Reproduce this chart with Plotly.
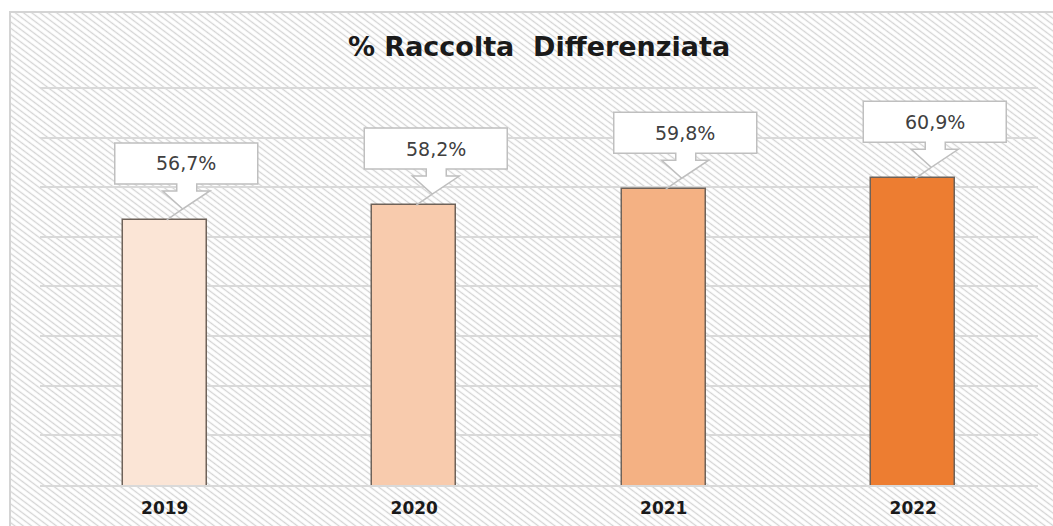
import base64
import plotly.graph_objects as go

# ---- data ----
years = ["2019", "2020", "2021", "2022"]
values = [56.7, 58.2, 59.8, 60.9]
labels = ["56,7%", "58,2%", "59,8%", "60,9%"]
bar_colors = ["#FBE5D6", "#F8CBAD", "#F4B183", "#ED7D31"]
title_text = "% Raccolta  Differenziata"
grid_vals = [30, 35, 40, 45, 50, 55, 60, 65, 70]

W, H = 1053, 526
L, R, T, B = 40, 15, 83, 41
pw, ph = W - L - R, H - T - B

fig = go.Figure()
fig.add_trace(go.Bar(
    x=years, y=values, width=0.337,
    marker=dict(color=bar_colors, line=dict(color="#6e6259", width=1.5)),
    hoverinfo="skip",
))

# hatched background as an svg pattern image
svg = (
    '<svg xmlns="http://www.w3.org/2000/svg" width="1060" height="520">'
    '<defs><pattern id="p" width="5" height="5" patternUnits="userSpaceOnUse" '
    'patternTransform="rotate(37)">'
    '<rect width="5" height="5" fill="#ffffff"/>'
    '<line x1="0" y1="2.5" x2="5" y2="2.5" stroke="#d4d4d4" stroke-width="1.3"/>'
    '</pattern></defs>'
    '<rect width="100%" height="100%" fill="url(#p)"/></svg>'
)
src = "data:image/svg+xml;base64," + base64.b64encode(svg.encode()).decode()
bx0, by0 = 10, 12
fig.add_layout_image(dict(
    source=src, xref="paper", yref="paper",
    x=(bx0 - L) / pw, y=(H - B - by0) / ph,
    sizex=1060 / pw, sizey=520 / ph,
    xanchor="left", yanchor="top", sizing="stretch", layer="below",
))

# frame
fig.add_shape(type="rect", xref="paper", yref="paper",
              x0=(bx0 - L) / pw, x1=(W + 20 - L) / pw,
              y0=-(B + 20) / ph, y1=(H - B - by0) / ph,
              line=dict(color="#d4d4d4", width=2), fillcolor="rgba(0,0,0,0)",
              layer="below")

# callouts (pixel geometry relative to each bar top)
callout_path = (
    "M -50,77 L 93,77 L 93,36 L 32,36 L 32,29 L 45,29 L 18,11 "
    "L -2,29 L 12,29 L 12,36 L -50,36 Z M 18,11 L 2,0"
)
for i, (yr, v, lab) in enumerate(zip(years, values, labels)):
    fig.add_shape(type="path", xref="x", yref="y",
                  xsizemode="pixel", ysizemode="pixel",
                  xanchor=i, yanchor=v, path=callout_path,
                  fillcolor="#ffffff", line=dict(color="#bfbfbf", width=1.5),
                  layer="above")
    fig.add_annotation(x=i, y=v, text=lab, showarrow=False,
                       xshift=21.5, yshift=56.5,
                       font=dict(family="DejaVu Sans", size=19, color="#404040"))

fig.update_layout(
    width=W, height=H,
    margin=dict(l=L, r=R, t=T, b=B, autoexpand=False),
    paper_bgcolor="#ffffff", plot_bgcolor="rgba(0,0,0,0)",
    showlegend=False, bargap=0,
    title=dict(text="<b>" + title_text + "</b>", x=0.5, xref="paper",
               xanchor="center", y=1 - 47 / H, yanchor="middle",
               font=dict(family="DejaVu Sans", size=27, color="#1a1a1a")),
)
fig.update_xaxes(type="category", range=[-0.5, 3.5], autorange=False,
                 automargin=False,
                 showgrid=False, showline=True, linecolor="#d9d9d9", linewidth=1.5,
                 layer="below traces", ticks="",
                 ticklabelstandoff=7,
                 tickfont=dict(family="DejaVu Sans", size=17, color="#1a1a1a"),
                 tickprefix="<b>", ticksuffix="</b>", zeroline=False)
fig.update_yaxes(range=[30, 70.5], autorange=False, automargin=False,
                 tickvals=grid_vals, showticklabels=False,
                 showgrid=True, gridcolor="#d9d9d9", gridwidth=1.5,
                 zeroline=False, showline=False)

fig.write_html("out.html", config={"displayModeBar": False},
               post_script="document.body.style.margin='0';document.body.style.overflow='hidden';")
